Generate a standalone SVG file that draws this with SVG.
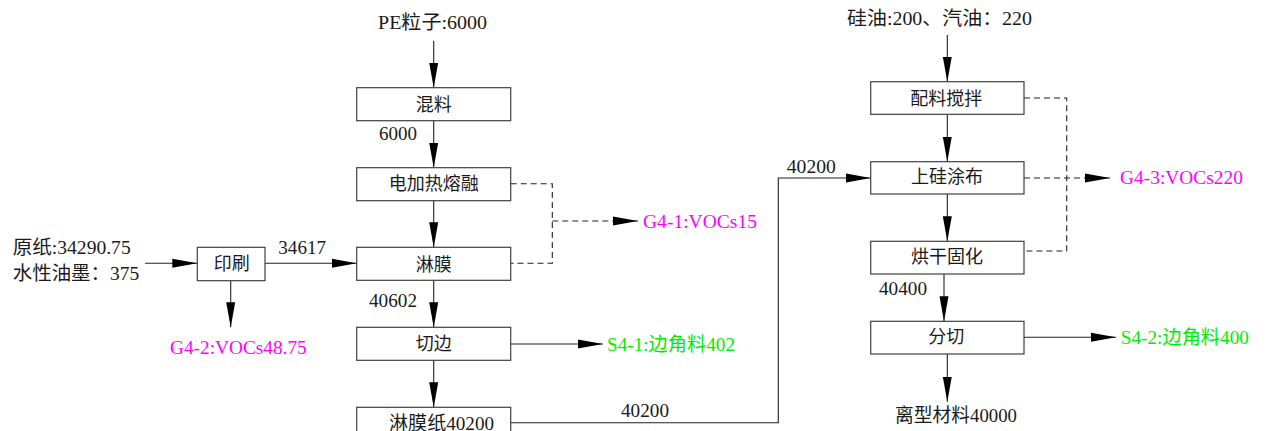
<svg xmlns="http://www.w3.org/2000/svg" width="1267" height="431" viewBox="0 0 1267 431">
<style>
.box{fill:#fff;stroke:#404040;stroke-width:1.2}
.ln{fill:none;stroke:#222;stroke-width:1.1}
.ar{marker-end:url(#ah)}
.dash{fill:none;stroke:#222;stroke-width:1.1;stroke-dasharray:6,4}
text{font-family:"Liberation Serif","Noto Sans CJK SC",serif;font-size:19px;fill:#1a1a1a}
.c{text-anchor:middle;font-size:18px}
.mg{fill:#ff00ff}
.gr{fill:#00ee00}
</style>
<defs>
<marker id="ah" markerUnits="userSpaceOnUse" markerWidth="26" markerHeight="10" refX="25" refY="5" orient="auto">
<path d="M0,0.5 L25,5 L0,9.5 Z" fill="#000"/>
</marker>
</defs>
<rect width="1267" height="431" fill="#fff"/>
<g id="connectors">
<path class="ln ar" d="M433.7,40.7 V87.7"/>
<path class="ln ar" d="M433.7,120.7 V167.7"/>
<path class="ln ar" d="M433.7,200.7 V247.3"/>
<path class="ln ar" d="M433.7,280.3 V327.3"/>
<path class="ln ar" d="M433.7,360 V407.3"/>
<path class="ln ar" d="M145,263.3 H197.3"/>
<path class="ln ar" d="M265,263.3 H356.7"/>
<path class="ln ar" d="M230.7,280.7 V327.3"/>
<path class="ln ar" d="M510.7,344 H603"/>
<path class="dash" d="M510.7,183.7 H552.3 V263.3 H510.7"/>
<path class="dash ar" d="M552.3,221 H638"/>
<path class="ln ar" d="M510.7,422.8 H778.3 V178 H870.7"/>
<path class="ln ar" d="M947.3,35 V81.7"/>
<path class="ln ar" d="M947.3,114.3 V161.7"/>
<path class="ln ar" d="M947.3,194 V241.3"/>
<path class="ln ar" d="M944,274 V321.3"/>
<path class="ln ar" d="M1024,337.3 H1116"/>
<path class="ln ar" d="M947.3,354 V401.7"/>
<path class="dash" d="M1024,98 H1066.7 V251 H1024"/>
<path class="dash ar" d="M1024,178 H1110"/>
</g>
<g id="labels">
<text x="378" y="28.5" textLength="109" lengthAdjust="spacingAndGlyphs">PE粒子:6000</text>
<text x="379" y="140" textLength="38" lengthAdjust="spacingAndGlyphs">6000</text>
<text x="369" y="307" textLength="48" lengthAdjust="spacingAndGlyphs">40602</text>
<text x="12.7" y="254" textLength="118" lengthAdjust="spacingAndGlyphs">原纸:34290.75</text>
<text x="12.7" y="280" textLength="126.6" lengthAdjust="spacingAndGlyphs">水性油墨：375</text>
<text x="278.3" y="254" textLength="47.7" lengthAdjust="spacingAndGlyphs">34617</text>
<text x="621" y="417" textLength="48" lengthAdjust="spacingAndGlyphs">40200</text>
<text x="786.8" y="172.5" textLength="49" lengthAdjust="spacingAndGlyphs">40200</text>
<text x="847" y="25" textLength="185" lengthAdjust="spacingAndGlyphs">硅油:200、汽油：220</text>
<text x="879" y="295" textLength="48" lengthAdjust="spacingAndGlyphs">40400</text>
<text x="895" y="422" textLength="122" lengthAdjust="spacingAndGlyphs">离型材料40000</text>
<text class="mg" x="643" y="228" textLength="114" lengthAdjust="spacingAndGlyphs">G4-1:VOCs15</text>
<text class="mg" x="170" y="353.5" textLength="136.7" lengthAdjust="spacingAndGlyphs">G4-2:VOCs48.75</text>
<text class="mg" x="1120" y="184" textLength="123" lengthAdjust="spacingAndGlyphs">G4-3:VOCs220</text>
<text class="gr" x="607" y="351" textLength="128" lengthAdjust="spacingAndGlyphs">S4-1:边角料402</text>
<text class="gr" x="1120.7" y="344" textLength="128.3" lengthAdjust="spacingAndGlyphs">S4-2:边角料400</text>
</g>
<g id="n-hunliao"><rect class="box" x="356.7" y="87.7" width="154" height="33"/><text class="c" x="433.7" y="111">混料</text></g>
<g id="n-ronrong"><rect class="box" x="356.7" y="167.7" width="154" height="33"/><text class="c" x="433.7" y="190">电加热熔融</text></g>
<g id="n-linmo"><rect class="box" x="356.7" y="247.3" width="154" height="33"/><text class="c" x="433.7" y="271">淋膜</text></g>
<g id="n-qiebian"><rect class="box" x="356.7" y="327.3" width="154" height="33"/><text class="c" x="433.7" y="350">切边</text></g>
<g id="n-linmozhi"><rect class="box" x="356.7" y="407.3" width="154" height="33"/><text x="389" y="430" textLength="105" lengthAdjust="spacingAndGlyphs">淋膜纸40200</text></g>
<g id="n-yinshua"><rect class="box" x="197.3" y="247.3" width="67.7" height="33.4"/><text class="c" x="231.7" y="270">印刷</text></g>
<g id="n-peiliao"><rect class="box" x="870.7" y="81.7" width="153.3" height="32.6"/><text class="c" x="946.3" y="105">配料搅拌</text></g>
<g id="n-tubu"><rect class="box" x="870.7" y="161.7" width="153.3" height="32.3"/><text class="c" x="947" y="183">上硅涂布</text></g>
<g id="n-honggan"><rect class="box" x="870.7" y="241.3" width="153.3" height="32.7"/><text class="c" x="947" y="263">烘干固化</text></g>
<g id="n-fenqie"><rect class="box" x="870.7" y="321.3" width="153.3" height="32.7"/><text class="c" x="946.2" y="343">分切</text></g>
</svg>
